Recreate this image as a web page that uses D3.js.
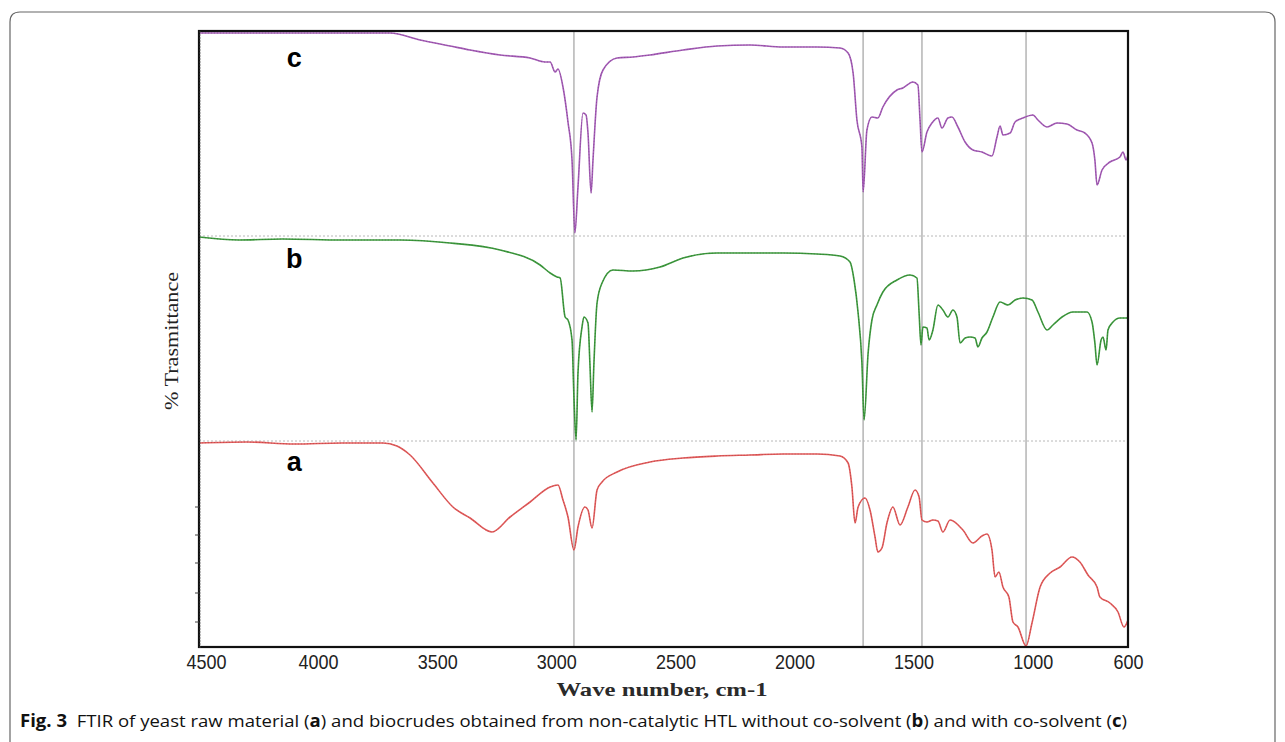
<!DOCTYPE html>
<html><head><meta charset="utf-8">
<script src="https://cdn.jsdelivr.net/npm/d3@7"></script>
<style>body{margin:0;background:#fff;} svg{display:block}</style>
</head><body>
<svg id="chart" width="1285" height="742"></svg>
<script>
// ---- data (wavenumber cm-1, stacked % transmittance units) ----
const xTicks = [4500, 4000, 3500, 3000, 2500, 2000, 1500, 1000, 600];
const refLines = [2926, 1712, 1465, 1028];
const baselineLevels = [103, 205.5];
const yMajorTicks = [70, 56, 42, 27, 12.5];
const seriesNames = ["a", "b", "c"];
const seriesColors = ["#e35b5b", "#3e9a3e", "#a55cb7"];
const labelPos = [[4100, 88], [4100, 189.5], [4100, 290]];

const spectrumA = [[4500,102],[4300,102.5],[4100,101.5],[3900,102],[3728,102],[3669,100.5],[3614,96],[3518,82],[3434,70],[3362,64.5],[3270,57.5],[3194,65],[3110,72.5],[3026,80],[2993,81],[2972,73.5],[2951,65],[2926,48.5],[2909,60],[2880,70],[2867,68.5],[2850,59.5],[2829,78.5],[2808,82.5],[2745,87.5],[2607,92.5],[2468,94.5],[2325,95.5],[2187,96],[2048,96.5],[1906,96.5],[1809,95.5],[1775,92],[1759,80],[1746,62],[1733,70],[1704,74.5],[1683,68.5],[1662,55],[1650,47.5],[1633,49.5],[1612,62],[1587,70],[1557,61],[1524,70],[1494,78.5],[1477,75],[1465,63.5],[1444,62.5],[1419,63.5],[1398,63],[1377,57.5],[1347,63.5],[1293,58.5],[1251,52],[1213,55.5],[1192,56.5],[1171,48.5],[1158,35],[1142,37.5],[1125,30],[1100,25],[1083,12.5],[1062,10],[1028,0.5],[1003,12],[969,30],[927,37],[885,40],[835,45],[802,42.5],[768,36],[730,30],[718,25],[676,22],[642,17.5],[617,10],[600,13.5]];

const spectrumB = [[4500,205],[4332,203.5],[4150,204],[3900,203.5],[3656,203.5],[3446,202],[3236,198.5],[3068,191],[3026,187],[2997,185],[2984,184.5],[2963,165],[2951,163.5],[2934,153.5],[2926,125],[2917,103.5],[2909,137],[2892,160],[2884,165],[2867,162],[2859,142],[2850,117.5],[2842,142],[2829,172],[2808,182],[2762,188.5],[2678,188],[2565,190],[2468,194.5],[2325,197],[2187,197],[2048,197],[1906,196.5],[1809,195.5],[1767,192.5],[1750,183.5],[1733,167],[1717,142],[1708,113.5],[1691,147],[1675,163.5],[1654,171],[1629,177.5],[1570,183.5],[1515,186],[1486,184.5],[1477,167],[1469,151],[1461,160],[1444,159.5],[1435,153.5],[1419,158.5],[1398,171],[1377,168.5],[1356,165],[1335,168.5],[1318,165],[1305,152],[1284,154.5],[1263,155],[1242,154.5],[1230,150],[1213,154.5],[1192,157.5],[1167,165],[1137,172.5],[1104,171],[1074,173.5],[1041,174.5],[1003,173.5],[978,167.5],[940,158.5],[915,161],[877,165],[831,167.5],[772,167.5],[751,162.5],[739,152],[730,141],[713,153.5],[705,155],[692,148.5],[684,158.5],[663,162.5],[634,164.5],[600,164.5]];

const spectrumC = [[4500,307],[4076,307],[3698,307],[3572,303.5],[3446,300.5],[3362,298.5],[3236,296],[3110,294.5],[3048,292.5],[3026,292.5],[3005,287.5],[2993,289],[2972,280],[2951,262.5],[2934,243.5],[2922,207],[2909,230],[2888,267],[2875,266],[2867,257],[2854,227],[2846,243.5],[2829,275],[2804,288.5],[2745,294.5],[2678,295],[2607,296],[2468,298.5],[2325,300.5],[2187,301],[2048,300],[1906,300],[1809,299.5],[1775,297],[1754,287],[1738,263.5],[1717,250],[1712,227.5],[1696,258.5],[1675,265],[1650,264.5],[1629,270],[1570,278.5],[1545,279.5],[1503,282.5],[1482,281],[1473,263.5],[1465,247.5],[1444,257.5],[1423,262],[1398,264.5],[1381,259.5],[1356,264.5],[1339,265],[1314,260],[1284,252.5],[1251,248.5],[1213,247.5],[1171,245.5],[1150,255],[1137,260.5],[1125,256],[1095,257],[1074,262.5],[1041,264.5],[999,266],[978,263.5],[940,260],[898,262],[856,261.5],[814,258.5],[781,257],[751,252],[739,243.5],[730,231],[709,238.5],[676,242.5],[634,245],[621,247.5],[608,243.5],[600,246]];

const spectra = [spectrumA, spectrumB, spectrumC];

// ---- layout ----
const svg = d3.select("#chart");
const L = 199, R = 1128, T = 31, B = 647;
const x = d3.scaleLinear().domain([4500, 600]).range([L, R]);
const y = d3.scaleLinear().domain([0, 308]).range([B, T]);

// outer rounded frame (open at bottom)
const fr = 10, fx0 = 10, fy0 = 12, fx1 = 1275;
svg.append("path")
  .attr("d", `M${fx0},742 L${fx0},${fy0+fr} Q${fx0},${fy0} ${fx0+fr},${fy0} L${fx1-fr},${fy0} Q${fx1},${fy0} ${fx1},${fy0+fr} L${fx1},742`)
  .attr("fill", "none").attr("stroke", "#666").attr("stroke-width", 1.2);

svg.append("defs").append("clipPath").attr("id", "clip")
  .append("rect").attr("x", L).attr("y", T).attr("width", R - L).attr("height", B - T);

// dotted baselines
svg.append("g").selectAll("line").data(baselineLevels).join("line")
  .attr("x1", L).attr("x2", R).attr("y1", d => y(d)).attr("y2", d => y(d))
  .attr("stroke", "#b8b8b8").attr("stroke-width", 1).attr("stroke-dasharray", "2,2");

// vertical reference lines
svg.append("g").selectAll("line").data(refLines).join("line")
  .attr("x1", d => x(d)).attr("x2", d => x(d)).attr("y1", T).attr("y2", B)
  .attr("stroke", "#b4b4b4").attr("stroke-width", 1.5);

// spectra
const line = d3.line().x(d => x(d[0])).y(d => y(d[1])).curve(d3.curveMonotoneX);
const g = svg.append("g").attr("clip-path", "url(#clip)");
spectra.forEach((s, i) => {
  g.append("path").datum(s).attr("d", line)
    .attr("fill", "none").attr("stroke", seriesColors[i]).attr("stroke-width", 1.6)
    .attr("stroke-linejoin", "round");
  g.append("path").datum(s).attr("d", line)
    .attr("fill", "none").attr("stroke", d3.color(seriesColors[i]).darker(1.2)).attr("stroke-width", 0.8)
    .attr("stroke-dasharray", "1,2").attr("opacity", 0.6);
});

// series labels
svg.append("g").selectAll("text").data(seriesNames).join("text")
  .attr("x", (d, i) => x(labelPos[i][0])).attr("y", (d, i) => y(labelPos[i][1]))
  .attr("text-anchor", "middle")
  .style("font-family", "'Liberation Sans', Arial, sans-serif")
  .style("font-weight", "bold").style("font-size", "27px").attr("fill", "#000")
  .text(d => d);

// frame
svg.append("rect").attr("x", L).attr("y", T).attr("width", R - L).attr("height", B - T)
  .attr("fill", "none").attr("stroke", "#111").attr("stroke-width", 2.2);

// left axis: dense minor ticks + outward ticks
const minorTicks = d3.range(0, 308, 1.5);
svg.append("g").selectAll("line").data(minorTicks).join("line")
  .attr("x1", L).attr("x2", L + 2).attr("y1", d => y(d)).attr("y2", d => y(d))
  .attr("stroke", "#555").attr("stroke-width", 0.6);
svg.append("g").selectAll("line").data(yMajorTicks).join("line")
  .attr("x1", L - 4).attr("x2", L).attr("y1", d => y(d)).attr("y2", d => y(d))
  .attr("stroke", "#444").attr("stroke-width", 1);

// x axis labels
const xAxis = d3.axisBottom(x).tickValues(xTicks).tickSize(0).tickPadding(7).tickFormat(d3.format("d"));
const ax = svg.append("g").attr("transform", `translate(0,${B})`).call(xAxis);
ax.select(".domain").remove();
ax.selectAll("text")
  .style("font-family", "'Liberation Sans', Arial, sans-serif").style("font-size", "21px")
  .attr("fill", "#222")
  .attr("textLength", d => String(d).length * 10)
  .attr("lengthAdjust", "spacingAndGlyphs")
  .attr("dx", d => d === 4500 ? 7 : 0);

// axis titles
svg.append("text").attr("x", 662).attr("y", 696).attr("text-anchor", "middle")
  .style("font-family", "'Liberation Serif', 'DejaVu Serif', serif").style("font-size", "19px")
  .style("font-weight", "bold").attr("fill", "#2a2a2a")
  .attr("textLength", 211).attr("lengthAdjust", "spacingAndGlyphs")
  .text("Wave number, cm-1");

svg.append("text").attr("transform", "translate(178,341) rotate(-90)").attr("text-anchor", "middle")
  .style("font-family", "'Liberation Serif', 'DejaVu Serif', serif").style("font-size", "19px")
  .attr("fill", "#222")
  .attr("textLength", 138).attr("lengthAdjust", "spacingAndGlyphs")
  .text("% Trasmittance");

// caption
const cap = svg.append("text").attr("x", 20).attr("y", 727)
  .style("font-family", "'Open Sans', 'Noto Sans', sans-serif").style("font-size", "17px")
  .attr("fill", "#111")
  .attr("textLength", 1107).attr("lengthAdjust", "spacingAndGlyphs");
const parts = [["Fig. 3", true], ["  FTIR of yeast raw material (", false], ["a", true],
  [") and biocrudes obtained from non-catalytic HTL without co-solvent (", false], ["b", true],
  [") and with co-solvent (", false], ["c", true], [")", false]];
cap.selectAll("tspan").data(parts).join("tspan")
  .style("font-weight", d => d[1] ? "bold" : "normal")
  .attr("xml:space", "preserve")
  .text(d => d[0]);
</script>
</body></html>
